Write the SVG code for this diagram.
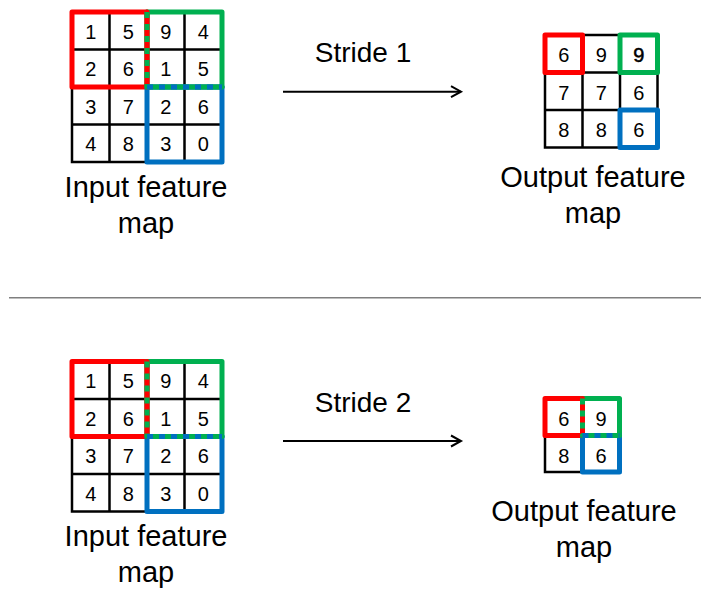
<svg xmlns="http://www.w3.org/2000/svg" width="701" height="592" viewBox="0 0 701 592">
<style>
.bg{fill:#fff}
.grid{fill:none;stroke:#000;stroke-width:2.5}
.red{fill:none;stroke:#FF0000;stroke-width:5;stroke-linejoin:round;stroke-linecap:round}
.green{fill:none;stroke:#00B050;stroke-width:5;stroke-linejoin:round;stroke-linecap:round}
.blue{fill:none;stroke:#0070C0;stroke-width:5;stroke-linejoin:round;stroke-linecap:round}
.dg{fill:none;stroke:#00B050;stroke-width:5;stroke-dasharray:6 6}
.db{fill:none;stroke:#0070C0;stroke-width:5;stroke-dasharray:6 6}
.num{font-family:"Liberation Sans",Arial,sans-serif;font-size:20px;text-anchor:middle;fill:#000}
.lbl{font-family:"Liberation Sans",Arial,sans-serif;font-size:29px;text-anchor:middle;fill:#000}
.str{font-family:"Liberation Sans",Arial,sans-serif;font-size:28px;text-anchor:middle;fill:#000}
.conn{stroke:#000;stroke-width:2;fill:none}
</style>
<defs>
<marker id="arr" markerWidth="14" markerHeight="14" refX="11" refY="7" orient="auto" markerUnits="userSpaceOnUse">
<path d="M1,1.5 L11,7 L1,12.5" fill="none" stroke="#000" stroke-width="2"/>
</marker>
<g id="inGrid">
<rect class="grid" x="72" y="0" width="150" height="150"/>
<path class="grid" d="M109.5,0V150M147,0V150M184.5,0V150M72,37.5H222M72,75H222M72,112.5H222"/>
<text class="num" x="90.75" y="26.75">1</text><text class="num" x="128.25" y="26.75">5</text><text class="num" x="165.75" y="26.75">9</text><text class="num" x="203.25" y="26.75">4</text>
<text class="num" x="90.75" y="64.25">2</text><text class="num" x="128.25" y="64.25">6</text><text class="num" x="165.75" y="64.25">1</text><text class="num" x="203.25" y="64.25">5</text>
<text class="num" x="90.75" y="101.75">3</text><text class="num" x="128.25" y="101.75">7</text><text class="num" x="165.75" y="101.75">2</text><text class="num" x="203.25" y="101.75">6</text>
<text class="num" x="90.75" y="139.25">4</text><text class="num" x="128.25" y="139.25">8</text><text class="num" x="165.75" y="139.25">3</text><text class="num" x="203.25" y="139.25">0</text>
<rect class="red" x="72" y="0" width="75" height="75"/>
<rect class="green" x="147" y="0" width="75" height="75"/>
<rect class="blue" x="147" y="75" width="75" height="75"/>
<path class="red" d="M147,0V75"/>
<path class="dg" d="M147,0V75"/>
<path class="green" d="M147,75H222"/>
<path class="db" d="M147,75H222"/>
</g>
</defs>
<rect class="bg" x="0" y="0" width="701" height="592"/>

<g id="input-top">
<use href="#inGrid" x="0" y="12"/>
<text class="lbl" x="146" y="196.5">Input feature</text>
<text class="lbl" x="146" y="233">map</text>
</g>

<g id="stride1">
<text class="str" x="363" y="61.5">Stride 1</text>
</g>

<g id="output-top">
<rect class="grid" x="545" y="35" width="112.5" height="112.5"/>
<path class="grid" d="M582.5,35V147.5M620,35V147.5M545,72.5H657.5M545,110H657.5"/>
<text class="num" x="563.75" y="62.25">6</text><text class="num" x="601.25" y="62.25">9</text><text class="num" x="638.75" y="62.25" stroke="#000" stroke-width="0.5">9</text>
<text class="num" x="563.75" y="99.75">7</text><text class="num" x="601.25" y="99.75">7</text><text class="num" x="638.75" y="99.75">6</text>
<text class="num" x="563.75" y="137.25">8</text><text class="num" x="601.25" y="137.25">8</text><text class="num" x="638.75" y="137.25">6</text>
<rect class="red" x="545" y="35" width="37.5" height="37.5"/>
<rect class="green" x="620" y="35" width="37.5" height="37.5"/>
<rect class="blue" x="620" y="110" width="37.5" height="37.5"/>
<text class="lbl" x="593" y="186.5">Output feature</text>
<text class="lbl" x="593" y="223">map</text>
</g>

<g id="separator">
<line x1="9" y1="297.7" x2="701" y2="297.7" stroke="#7f7f7f" stroke-width="1.6"/>
</g>

<g id="input-bottom">
<use href="#inGrid" x="0" y="361.5"/>
<text class="lbl" x="146" y="545.7">Input feature</text>
<text class="lbl" x="146" y="582">map</text>
</g>

<g id="stride2">
<text class="str" x="363" y="411.5">Stride 2</text>
</g>

<g id="output-bottom">
<rect class="grid" x="545" y="398.5" width="74.5" height="73.5"/>
<path class="grid" d="M582.5,398.5V472M545,435.5H619.5"/>
<text class="num" x="563.75" y="425.5">6</text><text class="num" x="601" y="425.5">9</text>
<text class="num" x="563.75" y="462.5">8</text><text class="num" x="601" y="462.5">6</text>
<rect class="red" x="545" y="398.5" width="37.5" height="37"/>
<rect class="green" x="582.5" y="398.5" width="37" height="37"/>
<rect class="blue" x="582.5" y="435.5" width="37" height="36.5"/>
<path class="red" d="M582.5,398.5V435.5"/>
<path class="dg" d="M582.5,398.5V435.5"/>
<path class="green" d="M582.5,435.5H619.5"/>
<path class="db" d="M582.5,435.5H619.5"/>
<text class="lbl" x="584" y="520.5">Output feature</text>
<text class="lbl" x="584" y="557">map</text>
</g>

<g id="connectors">
<line class="conn" x1="283" y1="91.7" x2="461" y2="91.7" marker-end="url(#arr)"/>
<line class="conn" x1="283" y1="441" x2="461" y2="441" marker-end="url(#arr)"/>
</g>
</svg>
